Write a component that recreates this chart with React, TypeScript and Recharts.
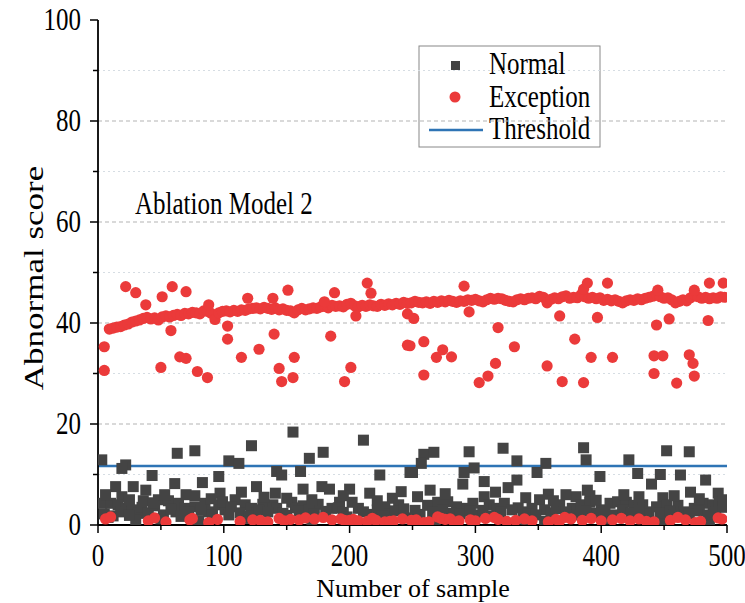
import { ScatterChart, Scatter, XAxis, YAxis, ReferenceLine, Customized } from 'recharts';

const FONT = '"Liberation Serif", "Times New Roman", serif';

// [sample, score]
const normalPoints: [number, number][] = [
  [3, 12.9], [22, 11.9], [19, 11.2], [63, 14.2], [77, 14.7], [104, 12.7], [112, 12.2], [122, 15.7],
  [43, 9.8], [14, 7.6], [28, 7.6], [38, 6.9], [61, 8.2], [83, 8.4], [96, 9.6], [77, 5.8], [97, 6.3],
  [36, 4.8], [19, 5.6], [3, 4.3], [10, 4.3], [16, 4.0], [22, 3.3], [27, 3.0], [32, 2.3], [48, 5.0],
  [56, 4.8], [64, 4.3], [62, 2.6], [69, 3.3], [77, 3.6], [85, 4.3], [88, 2.6], [96, 4.0], [101, 3.0],
  [109, 5.0], [117, 4.0], [122, 3.3], [104, 2.0],
  [155, 18.4], [211, 16.8], [179, 14.4], [168, 13.2], [142, 10.6], [146, 9.9], [161, 10.6], [224, 9.9],
  [248, 10.4], [126, 7.6], [163, 7.1], [178, 7.6], [184, 7.1], [200, 7.1], [216, 6.3], [234, 5.3],
  [141, 6.3], [131, 4.1], [139, 4.0], [142, 3.3], [154, 4.5], [157, 3.4], [163, 3.8], [175, 4.1],
  [186, 3.3], [192, 4.5], [191, 3.4], [202, 4.5], [207, 3.3], [216, 2.1], [228, 3.6], [239, 4.0],
  [232, 2.1], [126, 2.3], [147, 2.3],
  [259, 14.0], [267, 14.4], [257, 12.2], [250, 10.4], [295, 14.5], [322, 15.2], [333, 12.7], [299, 11.3],
  [291, 10.4], [356, 12.2], [349, 10.4], [290, 8.1], [307, 8.6], [333, 8.9], [326, 7.4], [264, 6.9],
  [358, 6.1], [307, 5.6], [367, 4.0], [256, 2.1], [262, 3.9], [270, 4.5], [278, 4.6], [285, 3.6],
  [293, 3.3], [298, 4.3], [311, 4.0], [317, 3.3], [323, 4.3], [334, 3.4], [338, 2.6], [345, 3.3],
  [351, 5.0], [355, 3.0], [281, 2.3], [302, 2.0],
  [386, 15.3], [388, 12.9], [399, 9.6], [422, 12.9], [429, 10.2], [452, 14.7], [470, 14.5], [447, 10.0],
  [463, 9.9], [483, 8.9], [440, 8.1], [471, 6.5], [493, 6.3], [380, 5.6], [389, 6.9], [391, 5.8],
  [449, 5.4], [377, 3.3], [384, 4.0], [391, 4.5], [400, 3.0], [407, 4.3], [413, 4.6], [420, 4.5],
  [426, 3.9], [433, 4.0], [438, 2.6], [444, 3.6], [452, 4.0], [461, 3.9], [466, 2.6], [474, 3.3],
  [481, 4.3], [489, 4.0], [494, 4.5], [436, 2.1], [395, 2.3],
  [8, 1.5], [30, 1.0], [50, 1.2], [80, 0.8], [118, 1.3], [170, 1.0], [245, 1.4], [268, 0.8],
  [340, 1.1], [355, 0.7], [403, 1.2], [450, 1.0], [486, 0.9],
  [5, 2.2], [12, 1.8], [18, 2.6], [25, 1.9], [35, 3.5], [40, 2.4], [45, 3.8], [52, 2.0], [58, 3.1],
  [66, 1.7], [72, 2.5], [82, 2.9], [91, 1.9], [99, 4.6], [106, 3.6], [113, 2.4], [120, 1.8], [128, 3.0],
  [135, 2.6], [150, 1.9], [160, 2.8], [168, 3.0], [172, 2.2], [181, 2.7], [195, 2.5], [198, 1.6],
  [211, 2.6], [222, 3.0], [226, 1.8], [236, 2.8], [243, 3.2], [252, 2.9], [266, 2.5], [274, 3.0],
  [288, 2.2], [296, 2.8], [306, 2.9], [313, 1.8], [320, 2.5], [329, 3.0], [342, 2.2], [348, 2.0],
  [360, 2.4], [364, 3.2], [372, 2.6], [381, 2.0], [388, 2.8], [403, 2.6], [410, 2.0], [417, 3.0],
  [424, 2.4], [430, 2.9], [447, 2.3], [455, 2.8], [458, 2.0], [470, 2.2], [478, 2.8], [485, 2.0],
  [491, 2.6], [497, 3.5],
  [6, 6.0], [25, 5.0], [44, 4.4], [53, 6.0], [70, 6.0], [90, 5.2], [114, 6.5], [132, 5.5], [150, 5.3],
  [170, 5.0], [195, 5.8], [222, 4.8], [241, 6.6], [254, 5.6], [276, 6.2], [316, 6.5], [340, 5.4],
  [362, 4.8], [372, 6.0], [396, 4.9], [418, 6.0], [430, 5.6], [458, 5.8], [478, 5.2], [497, 5.0],
];

const exceptionBand: [number, number][] = [
  [9, 38.8], [12, 39.0], [15, 39.2], [18, 39.3], [21, 39.6], [24, 39.8], [27, 40.2], [30, 40.4],
  [33, 40.6], [36, 40.9], [39, 41.1], [42, 40.8], [45, 41.0], [48, 40.6], [51, 41.2], [54, 41.4],
  [57, 41.2], [60, 41.5], [63, 41.7], [66, 41.5], [69, 41.9], [72, 41.8], [75, 42.1], [78, 42.0],
  [81, 41.8], [84, 42.4], [87, 42.3], [90, 41.9], [93, 40.7], [96, 42.0], [99, 42.3], [102, 42.4],
  [105, 42.2], [108, 42.5], [111, 42.3], [114, 42.6], [117, 42.5], [120, 42.8], [123, 42.9], [126, 43.0],
  [129, 42.8], [132, 43.1], [135, 42.9], [138, 42.7], [141, 43.0], [144, 42.6], [147, 42.8], [150, 42.5],
  [153, 42.4], [156, 42.0], [159, 42.6], [162, 42.9], [165, 42.6], [168, 42.8], [171, 43.0], [174, 42.9],
  [177, 43.2], [180, 43.3], [183, 43.0], [186, 43.5], [189, 43.3], [192, 43.4], [195, 43.2], [198, 43.7],
  [201, 43.9], [204, 43.4], [207, 43.2], [210, 43.5], [213, 43.3], [216, 43.6], [219, 43.4], [222, 43.3],
  [225, 43.7], [228, 43.5], [231, 43.8], [234, 43.6], [237, 43.9], [240, 43.7], [243, 44.1], [246, 43.9],
  [249, 44.0], [252, 44.3], [255, 44.1], [258, 44.0], [261, 44.2], [264, 43.9], [267, 44.3], [270, 44.1],
  [273, 44.4], [276, 44.2], [279, 44.5], [282, 44.3], [285, 44.1], [288, 44.4], [291, 44.3], [294, 44.6],
  [297, 44.5], [300, 44.7], [303, 44.4], [306, 44.2], [309, 44.6], [312, 44.9], [315, 44.7], [318, 44.9],
  [321, 44.8], [324, 44.5], [327, 44.3], [330, 44.2], [333, 44.6], [336, 44.8], [339, 44.6], [342, 44.9],
  [345, 45.0], [348, 44.8], [351, 45.3], [354, 45.1], [357, 44.0], [360, 44.7], [363, 45.0], [366, 44.8],
  [369, 45.2], [372, 45.4], [375, 44.9], [378, 45.1], [381, 45.0], [384, 45.6], [387, 45.2], [390, 44.9],
  [393, 45.1], [396, 44.8], [399, 45.0], [402, 44.5], [405, 44.7], [408, 44.4], [411, 44.6], [414, 44.3],
  [417, 44.0], [420, 44.4], [423, 44.6], [426, 44.5], [429, 44.8], [432, 44.6], [435, 44.9], [438, 45.1],
  [441, 45.3], [444, 45.7], [447, 45.2], [450, 44.9], [453, 45.0], [456, 44.6], [459, 44.0], [462, 44.3],
  [465, 44.6], [468, 44.4], [471, 45.0], [474, 45.6], [477, 45.2], [480, 44.9], [483, 45.1], [486, 44.8],
  [489, 45.0], [492, 44.9], [495, 45.2], [498, 45.1],
];

const exceptionOutliers: [number, number][] = [
  [22, 47.2], [30, 46.0], [38, 43.6], [51, 45.2], [59, 47.2], [70, 46.2], [88, 43.6], [119, 44.9],
  [139, 44.9], [151, 46.5], [180, 44.2], [188, 46.0], [214, 47.9], [217, 45.9], [291, 47.3], [386, 46.7],
  [389, 47.9], [405, 47.9], [445, 46.5], [474, 46.5], [486, 47.9], [497, 47.9],
  [5, 35.3], [5, 30.6], [58, 38.5], [103, 39.4], [103, 36.8], [65, 33.3], [70, 33.0], [50, 31.2],
  [79, 30.4], [87, 29.2], [114, 33.2], [128, 34.8], [140, 37.8], [144, 31.0], [146, 28.4], [155, 29.2],
  [156, 33.2], [185, 37.4], [201, 31.2], [196, 28.4], [205, 41.4], [246, 35.6], [246, 41.8], [251, 40.9],
  [295, 42.2], [367, 41.4], [397, 41.1], [444, 39.6], [454, 40.8], [485, 40.5], [318, 39.1], [379, 36.8],
  [331, 35.3], [248, 35.5], [259, 36.3], [269, 33.2], [274, 34.7], [281, 33.3], [392, 33.2], [409, 33.2],
  [442, 33.5], [449, 33.5], [470, 33.7], [473, 32.0], [259, 29.7], [316, 32.0], [310, 29.5], [303, 28.2],
  [357, 31.5], [369, 28.4], [386, 28.2], [442, 30.0], [460, 28.1], [474, 29.5],
];

const exceptionLow: [number, number][] = [
  [6, 1.2], [10, 1.6], [40, 0.8], [45, 1.4], [54, 0.6], [73, 1.0], [75, 1.3], [88, 0.5], [95, 1.1],
  [113, 0.7], [123, 1.0], [129, 0.9], [135, 0.6], [144, 1.3], [148, 0.8], [153, 1.1], [160, 1.0],
  [165, 1.4], [172, 1.2], [179, 1.5], [186, 1.0], [193, 1.2], [196, 0.9], [200, 0.9], [203, 1.1],
  [207, 0.8], [214, 0.7], [218, 1.3], [221, 0.9], [228, 0.6], [232, 0.7], [235, 0.8], [242, 1.2],
  [249, 0.9], [253, 1.0], [259, 0.5], [263, 0.6], [270, 1.6], [273, 1.3], [276, 1.1], [280, 1.2],
  [283, 0.6], [287, 0.8], [296, 1.0], [300, 0.8], [308, 1.3], [315, 1.5], [318, 1.1], [325, 0.7],
  [332, 0.9], [339, 1.2], [345, 0.8], [358, 0.6], [364, 1.1], [367, 0.8], [371, 1.5], [376, 1.2],
  [385, 0.9], [392, 1.3], [400, 0.8], [409, 1.0], [416, 1.3], [423, 0.8], [430, 1.2], [436, 0.7],
  [442, 0.6], [455, 0.9], [461, 1.5], [467, 1.0], [475, 0.5], [479, 0.7], [493, 1.4], [496, 1.2],
];

const thresholdValue = 11.7;
const xTicks = [0, 50, 100, 150, 200, 250, 300, 350, 400, 450, 500];
const yTicks = [0, 10, 20, 30, 40, 50, 60, 70, 80, 90, 100];
const gridMajor = [20, 40, 60, 80];
const gridMinor = [10, 30, 50, 70, 90];
const seriesNames = ['Normal', 'Exception', 'Threshold'];

const NORMAL_COLOR = '#444444';
const EXCEPTION_COLOR = '#eb3a3a';
const THRESHOLD_COLOR = '#2e74b5';
const STRETCH = 1.25;

const toPts = (arr: [number, number][]) => arr.map(([x, y]) => ({ x, y }));
const normalData = toPts(normalPoints);
const exceptionData = toPts([...exceptionBand, ...exceptionOutliers, ...exceptionLow]);

const Square = (props: any) => {
  const { cx, cy } = props;
  if (cx == null || cy == null) return null;
  return <rect x={cx - 5.5} y={cy - 5.5} width={11} height={11} fill={NORMAL_COLOR} />;
};

const Dot = (props: any) => {
  const { cx, cy } = props;
  if (cx == null || cy == null) return null;
  return <circle cx={cx} cy={cy} r={5.6} fill={EXCEPTION_COLOR} />;
};

// serif text, stretched a little like the source image
const TallText = ({ x, y, size, anchor = 'start', baseline, rotate, sx = 1, sy = STRETCH, children }: any) => (
  <text
    transform={`translate(${x},${y})${rotate ? ` rotate(${rotate})` : ''} scale(${sx},${sy})`}
    fontFamily={FONT}
    fontSize={size}
    textAnchor={anchor}
    dominantBaseline={baseline}
    fill="#000"
  >
    {children}
  </text>
);

const YTick = (props: any) => {
  const { x, y, payload } = props;
  const major = payload.value % 20 === 0;
  return (
    <g>
      <line x1={x - (major ? 8 : 5)} x2={x} y1={y} y2={y} stroke="#000" strokeWidth={1.5} />
      {major && (
        <TallText x={x - 17} y={y} size={25} anchor="end" baseline="central">
          {payload.value}
        </TallText>
      )}
    </g>
  );
};

const XTick = (props: any) => {
  const { x, y, payload } = props;
  const major = payload.value % 100 === 0;
  return (
    <g>
      <line x1={x} x2={x} y1={y} y2={y + (major ? 8 : 5)} stroke="#000" strokeWidth={1.5} />
      {major && (
        <TallText x={x} y={y + 41} size={25} anchor="middle">
          {payload.value}
        </TallText>
      )}
    </g>
  );
};

const Overlay = () => (
  <g>
    <TallText x={34} y={278} size={28} anchor="middle" baseline="central" rotate={-90} sx={STRETCH} sy={1}>
      Abnormal score
    </TallText>
    <TallText x={413} y={597} size={26} anchor="middle" sy={1}>
      Number of sample
    </TallText>
    <TallText x={135} y={214} size={25}>
      Ablation Model 2
    </TallText>
    <rect x={419} y={46} width={181} height={101} fill="#fff" stroke="#888" strokeWidth={1} />
    <rect x={451} y={61} width={9} height={9} fill={NORMAL_COLOR} />
    <TallText x={489} y={74} size={25}>{seriesNames[0]}</TallText>
    <circle cx={455} cy={97} r={5.5} fill={EXCEPTION_COLOR} />
    <TallText x={489} y={107} size={25}>{seriesNames[1]}</TallText>
    <line x1={429} x2={483} y1={130} y2={130} stroke={THRESHOLD_COLOR} strokeWidth={2.5} />
    <TallText x={489} y={139} size={25}>{seriesNames[2]}</TallText>
  </g>
);

export default function App() {
  return (
    <div style={{ position: 'absolute', left: 0, top: 0, background: '#fff' }}>
      <ScatterChart width={745} height={603} margin={{ top: 20, right: 18, bottom: 18, left: 0 }}>
        <XAxis
          type="number"
          dataKey="x"
          domain={[0, 500]}
          ticks={xTicks}
          interval={0}
          height={60}
          tickSize={0}
          tickMargin={0}
          tickLine={false}
          tick={<XTick />}
          axisLine={{ stroke: '#000', strokeWidth: 1.8 }}
          allowDataOverflow
        />
        <YAxis
          type="number"
          dataKey="y"
          domain={[0, 100]}
          ticks={yTicks}
          interval={0}
          width={98}
          tickSize={0}
          tickMargin={0}
          tickLine={false}
          tick={<YTick />}
          axisLine={{ stroke: '#000', strokeWidth: 1.8 }}
          allowDataOverflow
        />
        {gridMinor.map((v) => (
          <ReferenceLine key={`mn${v}`} y={v} stroke="#d6dde3" strokeDasharray="2 3" strokeWidth={1} />
        ))}
        {gridMajor.map((v) => (
          <ReferenceLine key={`mj${v}`} y={v} stroke="#b3b3b3" strokeDasharray="4 3" strokeWidth={1} />
        ))}
        <Scatter name="Normal" data={normalData} shape={Square} isAnimationActive={false} />
        <Scatter name="Exception" data={exceptionData} shape={Dot} isAnimationActive={false} />
        <ReferenceLine y={thresholdValue} stroke={THRESHOLD_COLOR} strokeWidth={2.5} />
        <Customized component={Overlay} />
      </ScatterChart>
    </div>
  );
}
